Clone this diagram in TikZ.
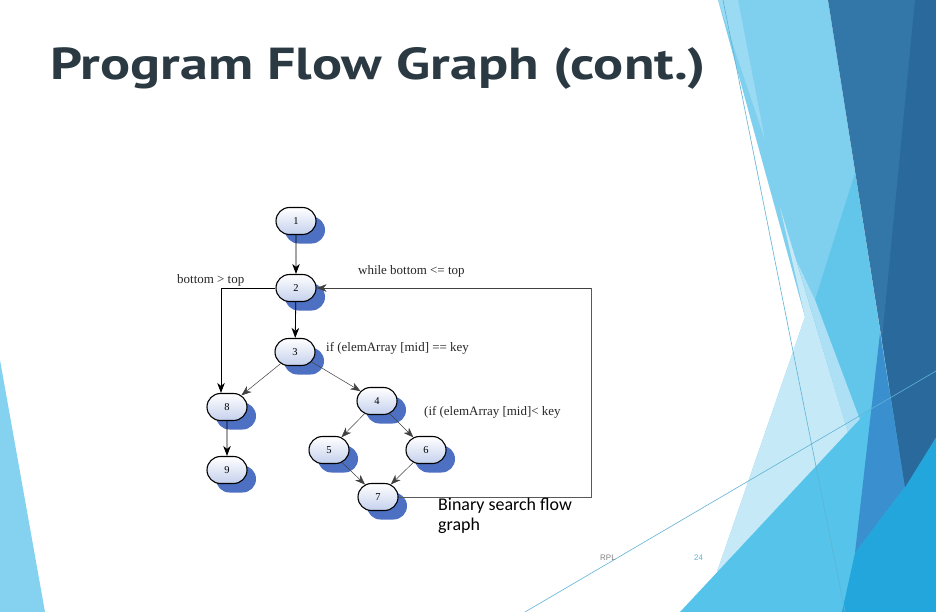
\documentclass[tikz,border=0pt]{standalone}
\usepackage{fontspec}
\setmainfont{Liberation Serif}
\newfontfamily\titlefont{PT Sans}
\newfontfamily\calfont{Carlito}
\newfontfamily\footfont{Liberation Sans}
\usetikzlibrary{shapes.misc,shadows,arrows.meta}
\definecolor{titlecol}{HTML}{2B3A42}
\definecolor{leftblue}{HTML}{85D2F0}
\definecolor{lightblue}{HTML}{7FCFEE}
\definecolor{midblue}{HTML}{62C6EA}
\definecolor{paleblue}{HTML}{C6E9F7}
\definecolor{stripblue}{HTML}{AEE0F5}
\definecolor{bigblue}{HTML}{55C3EA}
\definecolor{sliver}{HTML}{3A8FCF}
\definecolor{bright}{HTML}{22A6DC}
\definecolor{darkA}{HTML}{3377A8}
\definecolor{darkB}{HTML}{29699B}
\definecolor{wedge}{HTML}{9BDAF3}
\definecolor{thinline}{HTML}{5FB3D6}
\definecolor{shadowblue}{HTML}{4D70C2}
\definecolor{nodebot}{HTML}{C4D0EC}
\tikzset{
  fnode/.style={rounded rectangle, draw=black, line width=1.1bp,
    minimum width=40bp, minimum height=27bp, inner sep=0pt,
    top color=white, bottom color=nodebot,
    drop shadow={shadow xshift=9bp, shadow yshift=-9bp, fill=shadowblue, opacity=1},
    font=\fontsize{10.5}{10.5}\selectfont},
  arr/.style={-{Stealth[length=10bp,width=7.5bp,inset=3bp]}, line width=0.8bp, draw=black},
  thinarr/.style={-{Stealth[length=10bp,width=7.5bp,inset=3bp]}, line width=0.5bp, draw=black!75},
  loopline/.style={line width=0.6bp, draw=black!65},
  lbl/.style={anchor=base west, inner sep=0pt, font=\fontsize{13}{13}\selectfont, text=black!85},
  capt/.style={anchor=base west, inner sep=0pt, font=\calfont\fontsize{18}{18}\selectfont},
  foot/.style={anchor=base west, inner sep=0pt, font=\footfont\fontsize{8}{8}\selectfont}
}
\begin{document}
\begin{tikzpicture}[x=1bp,y=-1bp]
\useasboundingbox (0,0) rectangle (936,612);
\fill[white] (0,0) rectangle (936,612);
% decorations
\fill[leftblue] (0,360) -- (45,612) -- (0,612) -- cycle;
\fill[lightblue] (718,0) -- (828,0) -- (889,388) -- (717,572) -- (805,317) -- cycle;
\fill[wedge] (718,0) -- (738,0) -- (765,140) -- cycle;
\fill[paleblue] (780,207) -- (848,433) -- (717,572) -- (805,317) -- cycle;
\fill[midblue] (855,173) -- (889,388) -- (860,420) -- (815,300) -- cycle;
\fill[stripblue] (797,262) -- (815,300) -- (860,420) -- (848,433) -- cycle;
\fill[bigblue] (680,612) -- (889,388) -- (936,437) -- (936,612) -- cycle;
\fill[sliver] (880,333) -- (905,487) -- (855,553) -- cycle;
\fill[bright] (842,612) -- (855,553) -- (905,487) -- (936,437) -- (936,612) -- cycle;
\fill[darkA] (828,0) -- (936,0) -- (936,437) -- (905,487) -- cycle;
\fill[darkB] (915,0) -- (936,0) -- (936,437) -- (905,487) -- (882,340) -- cycle;
\draw[thinline, line width=0.6bp] (723,0) -- (845,612);
\draw[thinline, line width=0.6bp] (525,612) -- (936,371);
% title
\node[anchor=base west, inner sep=0pt, text=titlecol] (title) at (50,80)
  {\resizebox{656bp}{!}{\scalebox{1}[0.8]{\titlefont\bfseries Program Flow Graph (cont.)}}};
% graph nodes
\node[fnode] (n1) at (296,221) {1};
\node[fnode] (n2) at (296,288) {2};
\node[fnode] (n3) at (295,352) {3};
\node[fnode] (n8) at (227,407) {8};
\node[fnode] (n4) at (377,401) {4};
\node[fnode] (n5) at (329,450) {5};
\node[fnode] (n6) at (426,450) {6};
\node[fnode] (n9) at (227,470) {9};
\node[fnode] (n7) at (378,497) {7};
% loop coordinates
\coordinate (lb) at (591,497);
\coordinate (lt) at (591,288);
% edges
\draw[arr] (n1) -- (n2);
\draw[arr] (n2) -- (n3);
\draw[arr] (n8) -- (n9);
\draw[arr] (n2.west) -| ([xshift=-6bp]n8.north);
\draw[thinarr] (n3) -- (n8);
\draw[thinarr] (n3) -- (n4);
\draw[thinarr] (n4) -- (n5);
\draw[thinarr] (n4) -- (n6);
\draw[thinarr] (n5) -- (n7);
\draw[thinarr] (n6) -- (n7);
\draw[loopline] (n7.east) -- (lb) -- (lt);
\draw[thinarr] (lt) -- (n2.east);
% labels
\node[lbl] (l1) at (177,283) {bottom > top};
\node[lbl] (l2) at (358,275) {while bottom <= top};
\node[lbl] (l3) at (326,351) {if (elemArray [mid] == key};
\node[lbl] (l4) at (424,415) {(if (elemArray [mid]< key};
\node[capt] (cap1) at (438,510) {Binary search flow};
\node[capt] (cap2) at (438,530) {graph};
\node[foot, text=black!50] (rpl) at (600,560) {RPL};
\node[foot, text=thinline] (pg) at (694,560) {24};
\end{tikzpicture}
\end{document}
